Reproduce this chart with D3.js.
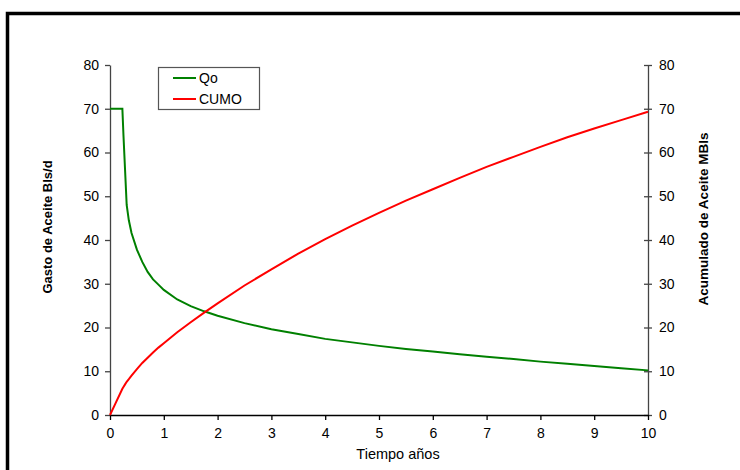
<!DOCTYPE html>
<html>
<head>
<meta charset="utf-8">
<script src="https://cdn.jsdelivr.net/npm/d3@7"></script>
<style>
  html, body { margin: 0; padding: 0; background: #fff; }
  svg { display: block; font-family: "Liberation Sans", Arial, sans-serif; }
</style>
</head>
<body>
<svg id="chart" width="740" height="470"></svg>
<script>
// ---- data ----
const time = [0, 0.1, 0.23, 0.25, 0.28, 0.31, 0.35, 0.4, 0.5, 0.6, 0.7, 0.8, 0.9, 1, 1.25, 1.5, 1.75, 2, 2.5, 3, 3.5, 4, 4.5, 5, 5.5, 6, 6.5, 7, 7.5, 8, 8.5, 9, 9.5, 10];
const qo   = [70, 70, 70, 64, 56, 48, 44.5, 41.6, 37.8, 35, 32.7, 31, 29.8, 28.6, 26.4, 24.9, 23.7, 22.7, 21.0, 19.6, 18.5, 17.4, 16.6, 15.8, 15.1, 14.5, 13.9, 13.3, 12.8, 12.2, 11.7, 11.2, 10.7, 10.2];
const cumo = [0, 2.6, 6.0, 6.4, 7.0, 7.6, 8.2, 9.0, 10.5, 11.9, 13.1, 14.3, 15.4, 16.4, 18.9, 21.2, 23.4, 25.5, 29.6, 33.3, 36.9, 40.2, 43.3, 46.2, 49.0, 51.6, 54.2, 56.7, 59.0, 61.3, 63.5, 65.5, 67.4, 69.3];
const xTicks = [0, 1, 2, 3, 4, 5, 6, 7, 8, 9, 10];
const yTicks = [0, 10, 20, 30, 40, 50, 60, 70, 80];
const seriesNames = ["Qo", "CUMO"];
const seriesColors = ["#008000", "#ff0000"];
const xTitle = "Tiempo años";
const yLeftTitle = "Gasto de Aceite Bls/d";
const yRightTitle = "Acumulado de Aceite MBls";

// ---- layout ----
const svg = d3.select("#chart");
const pLeft = 110, pRight = 648, pTop = 65, pBottom = 415;

const x = d3.scaleLinear().domain([0, 10]).range([pLeft, pRight]);
const yL = d3.scaleLinear().domain([0, 80]).range([pBottom, pTop]);
const yR = d3.scaleLinear().domain([0, 80]).range([pBottom, pTop]);

// outer frame
svg.append("rect")
  .attr("x", 7.5).attr("y", 13.5).attr("width", 800).attr("height", 500)
  .attr("fill", "none").attr("stroke", "#000").attr("stroke-width", 3.5);

const fontTick = "14px";

// left axis
const gL = svg.append("g").attr("transform", `translate(${pLeft},0)`)
  .call(d3.axisLeft(yL).tickValues(yTicks).tickSize(5).tickSizeOuter(0).tickPadding(6));
// right axis
const gR = svg.append("g").attr("transform", `translate(${pRight},0)`)
  .call(d3.axisRight(yR).tickValues(yTicks).tickSize(4).tickSizeOuter(0).tickPadding(7));
gR.selectAll(".tick line").attr("x1", -4).attr("x2", 4);
// bottom axis
const gB = svg.append("g").attr("transform", `translate(0,${pBottom})`)
  .call(d3.axisBottom(x).tickValues(xTicks).tickSize(5).tickSizeOuter(0).tickPadding(8));

[gL, gR].forEach(g => {
  g.select(".domain").attr("stroke", "#444").attr("stroke-width", 1.3);
  g.selectAll(".tick line").attr("stroke", "#444").attr("stroke-width", 1.3);
});
gB.select(".domain").attr("stroke", "#000").attr("stroke-width", 1.3);
gB.selectAll(".tick line").attr("stroke", "#000").attr("stroke-width", 1.3);
[gL, gR, gB].forEach(g => {
  g.selectAll("text").attr("font-size", fontTick).attr("fill", "#000")
    .attr("font-family", "'Liberation Sans', Arial, sans-serif");
});

// lines
const pts = time.map((t, i) => ({ t, qo: qo[i], cumo: cumo[i] }));
const lineQo = d3.line().x(d => x(d.t)).y(d => yL(d.qo));
const lineCumo = d3.line().x(d => x(d.t)).y(d => yR(d.cumo));
svg.append("path").datum(pts).attr("d", lineQo)
  .attr("fill", "none").attr("stroke", seriesColors[0]).attr("stroke-width", 2);
svg.append("path").datum(pts).attr("d", lineCumo)
  .attr("fill", "none").attr("stroke", seriesColors[1]).attr("stroke-width", 2);

// axis titles
svg.append("text").attr("x", 398).attr("y", 459).attr("text-anchor", "middle")
  .attr("font-size", "14.5px").text(xTitle);
svg.append("text").attr("transform", "translate(52,227) rotate(-90)")
  .attr("text-anchor", "middle").attr("font-size", "13px").attr("font-weight", "bold")
  .text(yLeftTitle);
svg.append("text").attr("transform", "translate(708,219) rotate(-90)")
  .attr("text-anchor", "middle").attr("font-size", "13.5px").attr("font-weight", "bold")
  .text(yRightTitle);

// legend
const lg = svg.append("g");
lg.append("rect").attr("x", 158.5).attr("y", 67.5).attr("width", 101).attr("height", 42)
  .attr("fill", "#fff").attr("stroke", "#555").attr("stroke-width", 1.2);
seriesNames.forEach((name, i) => {
  const yy = 78 + i * 21;
  lg.append("line").attr("x1", 173).attr("x2", 196).attr("y1", yy).attr("y2", yy)
    .attr("stroke", seriesColors[i]).attr("stroke-width", 2);
  lg.append("text").attr("x", 199).attr("y", yy + 5).attr("font-size", "14px").text(name);
});
</script>
</body>
</html>
